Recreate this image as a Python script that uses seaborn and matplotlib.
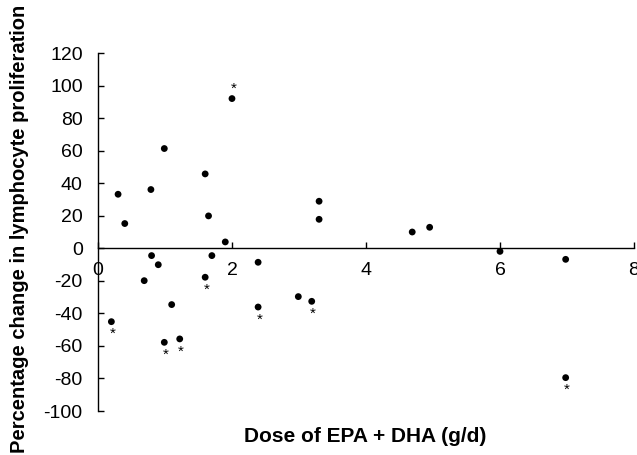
import numpy as np
import pandas as pd
import seaborn as sns
import matplotlib.pyplot as plt

# dose of EPA + DHA (g/d) and % change in lymphocyte proliferation
dose = [0.30, 0.40, 0.79, 0.99, 1.60, 1.65, 2.00, 3.30, 3.30, 4.69, 4.95,
        6.00, 6.98, 6.98, 3.19, 1.90, 0.80, 0.90, 1.70, 0.69, 1.60, 2.39,
        1.10, 0.20, 0.99, 1.22, 2.39, 2.99]
change = [33.2, 15.2, 36.1, 61.3, 45.7, 19.9, 92.0, 28.9, 17.8, 10.0, 12.9,
          -1.9, -6.8, -79.5, -32.6, 3.9, -4.5, -10.1, -4.5, -19.9, -17.8, -8.6,
          -34.6, -45.1, -57.8, -55.7, -36.1, -29.7]
# significant changes marked with an asterisk
signif = [False, False, False, False, False, False, True, False, False, False, False,
          False, False, True, True, False, False, False, False, False, True, False,
          False, True, True, True, True, False]

x_ticks = [0, 2, 4, 6, 8]
y_ticks = [-100, -80, -60, -40, -20, 0, 20, 40, 60, 80, 100, 120]

sns.set_style("ticks")
plt.rcParams['font.family'] = ['Liberation Sans', 'DejaVu Sans']
plt.rcParams['axes.unicode_minus'] = False
plt.rcParams['text.color'] = 'black'

df = pd.DataFrame({"dose": dose, "change": change, "signif": signif})

fig = plt.figure(figsize=(6.37, 4.55), dpi=100)
ax = fig.add_axes([0.1538, 0.0967, 0.8415, 0.7868])

sns.scatterplot(data=df, x="dose", y="change", color="black", s=24,
                edgecolor="none", ax=ax, clip_on=False)

for _, row in df[df.signif].iterrows():
    dy = 7 if row.change > 50 else -9
    ax.annotate("*", (row.dose, row.change), xytext=(1, dy),
                textcoords="offset points", ha="center", va="center",
                fontsize=11, color="black")

ax.set_xlim(0, 8)
ax.set_ylim(-100, 120)
ax.set_xticks(x_ticks)
ax.set_yticks(y_ticks)

ax.spines['right'].set_visible(False)
ax.spines['top'].set_visible(False)
ax.spines['bottom'].set_position(('data', 0))
for sp in ['left', 'bottom']:
    ax.spines[sp].set_linewidth(1.0)
    ax.spines[sp].set_color("black")

ax.tick_params(axis='both', direction='in', length=4, width=1.0,
               labelsize=14, colors="black")
ax.tick_params(axis='x', pad=10)
ax.tick_params(axis='y', pad=11)

ax.set_xlabel("")
ax.set_ylabel("")
fig.text(0.574, 0.0396, "Dose of EPA + DHA (g/d)", ha="center", va="center",
         fontsize=15, fontweight="bold", color="black")
fig.text(0.031, 0.497, "Percentage change in lymphocyte proliferation",
         ha="center", va="center", rotation=90, fontsize=14.5,
         fontweight="bold", color="black")

fig.savefig("out.png", dpi=100)
